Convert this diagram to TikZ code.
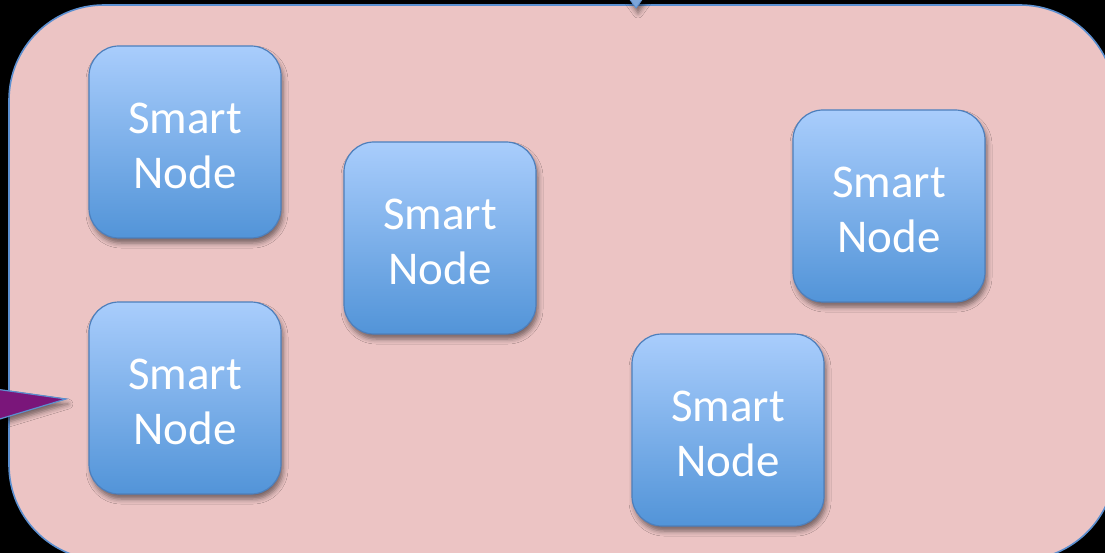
\documentclass[tikz,border=0pt]{standalone}
\usepackage{fontspec}
\setmainfont{Carlito}
\usetikzlibrary{shadows.blur}
\definecolor{framecol}{HTML}{5B8FD0}
\definecolor{groupfill}{HTML}{ECC4C4}
\definecolor{nodetop}{HTML}{A9CDFC}
\definecolor{nodebottom}{HTML}{5294D8}
\definecolor{nodeedge}{HTML}{4D7FBC}
\definecolor{arrowfill}{HTML}{7A167A}
\tikzset{
  softshadow/.style={blur shadow={shadow xshift=2pt, shadow yshift=-5pt,
      shadow blur radius=5pt, shadow opacity=50}},
  smartnode/.style={draw=nodeedge, line width=1.2pt, rounded corners=30pt,
      minimum width=192pt, minimum height=192pt, inner sep=0pt,
      top color=nodetop, bottom color=nodebottom, text=white, align=center,
      font=\fontsize{47}{55}\selectfont, softshadow},
}
\begin{document}
\begin{tikzpicture}[x=1pt,y=-1pt]
  \useasboundingbox (0,0) rectangle (1105,553);
  \fill[black] (0,0) rectangle (1105,553);

  % the enclosing group area
  \draw[framecol, line width=1.6pt, fill=groupfill, rounded corners=95pt]
    (9,5) rectangle (1115,560);

  % small marker on the top edge
  \draw[framecol, line width=0.8pt, fill=framecol!80!white, softshadow]
    (628,-3) -- (644,-3) -- (636,8) -- cycle;

  % pointer entering from the left
  \draw[framecol, line width=1.2pt, fill=arrowfill, softshadow]
    (-40,384) -- (66,399) -- (-40,431) -- cycle;

  % smart nodes
  \node[smartnode] (n1) at (185,142) {\strut Smart\\Node};
  \node[smartnode] (n2) at (185,398) {\strut Smart\\Node};
  \node[smartnode] (n3) at (440,238) {\strut Smart\\Node};
  \node[smartnode] (n4) at (889,206) {\strut Smart\\Node};
  \node[smartnode] (n5) at (728,430) {\strut Smart\\Node};
\end{tikzpicture}
\end{document}
